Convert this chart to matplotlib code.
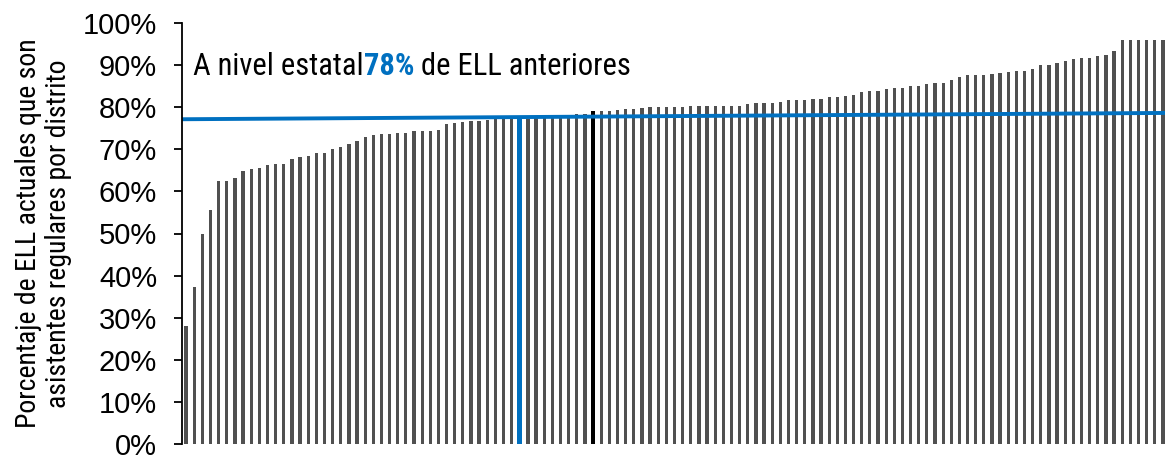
import matplotlib.pyplot as plt
import numpy as np

# share of current ELL who are regular attendees, one bar per district (sorted)
district_pct = [28.1, 37.4, 50.0, 55.6, 62.5, 62.5, 63.2, 64.8, 65.2, 65.5,
                66.3, 66.6, 66.6, 67.6, 68.2, 68.5, 69.2, 69.2, 70.0, 70.4,
                71.3, 71.9, 73.0, 73.4, 73.6, 73.6, 73.9, 73.9, 74.3, 74.3,
                74.3, 74.5, 76.0, 76.3, 76.4, 76.6, 76.8, 77.0, 77.1, 77.1,
                77.1, 77.2, 77.2, 77.3, 77.3, 77.4, 77.5, 77.6, 78.4, 78.4,
                79.1, 79.1, 79.1, 79.3, 79.5, 79.5, 79.8, 79.9, 79.9, 79.9,
                79.9, 79.9, 80.3, 80.3, 80.3, 80.3, 80.3, 80.3, 80.3, 80.6,
                81.0, 81.0, 81.0, 81.3, 81.7, 81.7, 81.7, 81.8, 81.8, 82.3,
                82.4, 82.6, 82.8, 83.6, 83.8, 83.8, 84.2, 84.6, 84.6, 84.9,
                85.1, 85.4, 85.7, 85.7, 86.3, 87.2, 87.5, 87.5, 87.6, 87.8,
                88.1, 88.2, 88.6, 88.6, 88.9, 90.0, 90.0, 90.4, 90.8, 91.5,
                91.6, 91.6, 92.2, 92.3, 93.2, 96.0, 96.0, 96.0, 96.0, 96.0,
                96.0]
state_idx = 41      # bar drawn in blue (state level)
highlight_idx = 50  # bar drawn in black
state_line = [77.1, 78.6]  # horizontal reference line, left and right ends
yticks = [0, 10, 20, 30, 40, 50, 60, 70, 80, 90, 100]

narrow = ['Roboto Condensed', 'Liberation Sans', 'DejaVu Sans']

gray = '#505050'
blue = '#0070C0'

x = np.arange(len(district_pct))
colors = [gray] * len(x)
widths = [0.4] * len(x)
colors[state_idx] = blue
widths[state_idx] = 0.6
colors[highlight_idx] = 'black'
widths[highlight_idx] = 0.45

fig = plt.figure(figsize=(11.65, 4.55), dpi=100)
ax = fig.add_axes([182/1165, 10.7/455, 985/1165, 421.6/455])

ax.bar(x, district_pct, width=widths, color=colors, linewidth=0)
ax.plot([-0.5, len(x) - 0.5], state_line, color=blue, lw=2.8, solid_capstyle='butt')

ax.set_xlim(-0.5, len(x) - 0.5)
ax.set_ylim(0, 100)
ax.set_yticks(yticks)
ax.set_yticklabels([f'{t}%' for t in yticks], fontsize=21, family='Liberation Sans')
ax.set_xticks([])
ax.tick_params(axis='y', direction='out', length=6, width=1.3, pad=12)
for s in ['top', 'right', 'bottom']:
    ax.spines[s].set_visible(False)
ax.spines['left'].set_linewidth(1.3)

ax.set_ylabel('Porcentaje de ELL actuales que son\nasistentes regulares por distrito',
              fontsize=20, family=narrow, linespacing=1.15)
ax.yaxis.set_label_coords(-0.1117, 0.5)

t1 = ax.text(0.85, 89.5, 'A nivel estatal', fontsize=22, family=narrow, va='center')
t2 = ax.annotate('78%', xy=(1, 0), xycoords=t1, fontsize=22, family=narrow,
                 color=blue, fontweight='bold', va='bottom')
ax.annotate(' de ELL anteriores', xy=(1, 0), xycoords=t2, fontsize=22, family=narrow,
            va='bottom')

fig.savefig('out.png', dpi=100)
